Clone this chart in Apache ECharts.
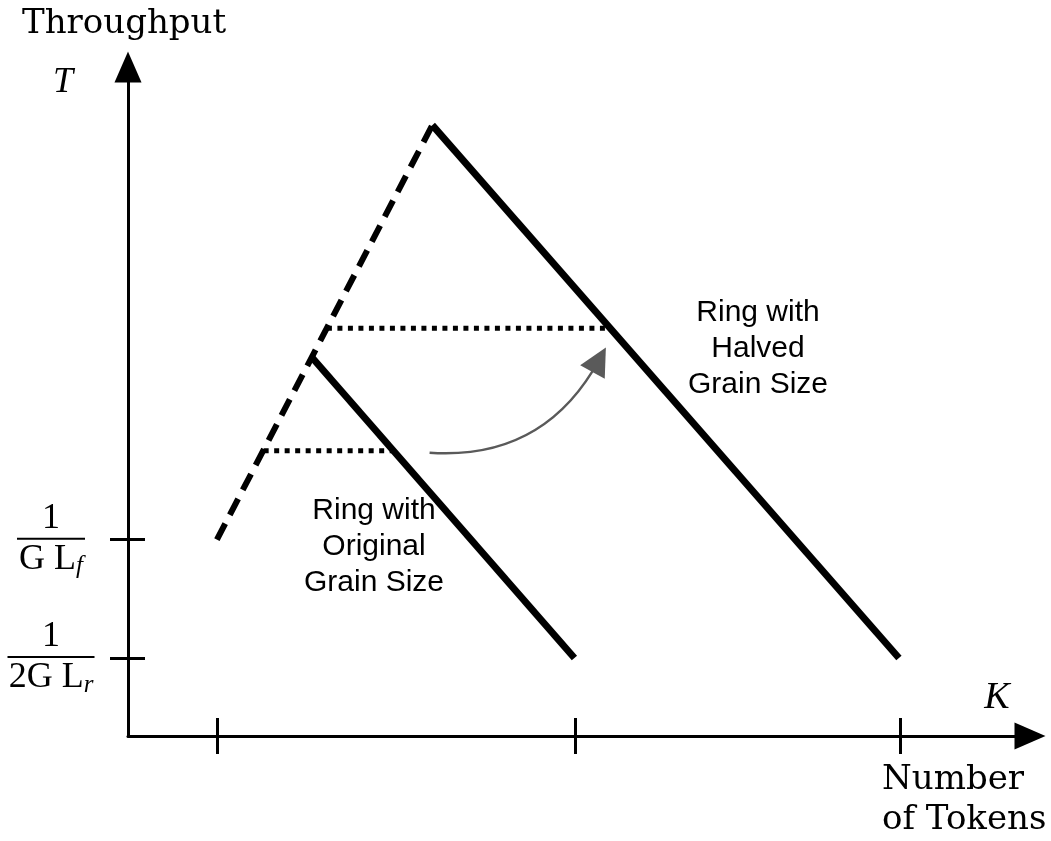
<!DOCTYPE html>
<html>
<head>
<meta charset="utf-8">
<script src="https://cdn.jsdelivr.net/npm/echarts@6/dist/echarts.min.js"></script>
<style>
  html, body { margin: 0; padding: 0; background: #fff; }
  #chart { width: 1051px; height: 841px; }
</style>
</head>
<body>
<div id="chart"></div>
<script>
// throughput vs number of tokens, schematic (arbitrary units)
var kTicks = [9.7, 48.8, 84.3];
var tTicks = [28.7, 11.4];
var tLabels = ['{n|1}\n{bar|}\n{d|G L}{sub|f}', '{n|1}\n{bar2|}\n{d|2G L}{sub|r}'];

var dashedRise = [[9.7, 28.7], [33.2, 89.3]];
var halvedRing = [[33.2, 89.3], [84.1, 11.4]];
var originalRing = [[20.1, 55.3], [48.7, 11.4]];
var halvedLevel = [[21.7, 59.6], [52.5, 59.6]];
var originalLevel = [[14.8, 41.7], [29.4, 41.7]];
var shiftArrow = [[32.9, 41.4], [51.4, 55.0]];

var xMax = 98.4, yMax = 97.8;
var serif = '"DejaVu Serif", serif';
var times = '"Liberation Serif", serif';
var sans = '"Liberation Sans", Arial, sans-serif';

function lineSeries(data, type, width) {
    return {
        type: 'line',
        data: data,
        showSymbol: false,
        silent: true,
        animation: false,
        lineStyle: { color: '#000', width: width, type: type, cap: 'butt' }
    };
}

var series = [
    lineSeries(dashedRise, [18, 10], 6),
    lineSeries(halvedRing, 'solid', 7),
    lineSeries(originalRing, 'solid', 7),
    lineSeries(halvedLevel, [5, 5.5], 5),
    lineSeries(originalLevel, [5, 5.5], 5),
    {
        // curved arrow between the two levels
        type: 'lines',
        coordinateSystem: 'cartesian2d',
        silent: true,
        animation: false,
        symbol: ['none', 'triangle'],
        symbolSize: [22, 28],
        lineStyle: { color: '#5a5a5a', width: 2.5, opacity: 1, curveness: -0.32 },
        data: [{ coords: shiftArrow }]
    }
];

function axisBase(min, max) {
    return { type: 'value', min: min, max: max, splitLine: { show: false } };
}

var option = {
    backgroundColor: '#fff',
    animation: false,
    grid: { left: 128, right: 21, top: 67, bottom: 105, outerBoundsMode: 'none' },
    xAxis: [
        Object.assign(axisBase(0, xMax), {
            position: 'bottom',
            axisLine: { show: true, onZero: false, symbol: ['none', 'triangle'], symbolSize: [27, 31],
                lineStyle: { color: '#000', width: 3 } },
            axisTick: { show: true, customValues: kTicks, length: 18, lineStyle: { color: '#000', width: 3 } },
            axisLabel: { show: false }
        }),
        Object.assign(axisBase(0, xMax), {
            position: 'bottom',
            axisLine: { show: false, onZero: false },
            axisTick: { show: true, inside: true, customValues: kTicks, length: 18, lineStyle: { color: '#000', width: 3 } },
            axisLabel: { show: false }
        })
    ],
    yAxis: [
        Object.assign(axisBase(0, yMax), {
            position: 'left',
            axisLine: { show: true, onZero: false, symbol: ['none', 'triangle'], symbolSize: [27, 31],
                lineStyle: { color: '#000', width: 3 } },
            axisTick: { show: true, customValues: tTicks, length: 18, lineStyle: { color: '#000', width: 3 } },
            axisLabel: {
                show: true, customValues: tTicks, margin: 77, align: 'center', color: '#000',
                formatter: function (v) { return tLabels[tTicks.indexOf(v)]; },
                rich: {
                    n: { fontFamily: times, fontSize: 36, lineHeight: 34, color: '#000' },
                    bar: { width: 68, height: 2, lineHeight: 6, backgroundColor: '#000' },
                    bar2: { width: 87, height: 2, lineHeight: 6, backgroundColor: '#000' },
                    d: { fontFamily: times, fontSize: 36, lineHeight: 36, color: '#000' },
                    sub: { fontFamily: times, fontStyle: 'italic', fontSize: 25, lineHeight: 36,
                        padding: [14, 0, 0, 0], color: '#000' }
                }
            }
        }),
        Object.assign(axisBase(0, yMax), {
            position: 'left',
            axisLine: { show: false, onZero: false },
            axisTick: { show: true, inside: true, customValues: tTicks, length: 17, lineStyle: { color: '#000', width: 3 } },
            axisLabel: { show: false }
        })
    ],
    graphic: [
        { type: 'text', x: 22, y: 24, silent: true,
          style: { text: 'Throughput', font: '34px ' + serif, fill: '#000', align: 'left', verticalAlign: 'middle' } },
        { type: 'text', x: 63, y: 83, silent: true,
          style: { text: 'T', font: 'italic 36px ' + times, fill: '#000', align: 'center', verticalAlign: 'middle' } },
        { type: 'text', x: 997, y: 698, silent: true,
          style: { text: 'K', font: 'italic 38px ' + times, fill: '#000', align: 'center', verticalAlign: 'middle' } },
        { type: 'text', x: 882, y: 800, silent: true,
          style: { text: 'Number\nof Tokens', font: '34px ' + serif, lineHeight: 40, fill: '#000', align: 'left', verticalAlign: 'middle' } },
        { type: 'text', x: 758, y: 349, silent: true,
          style: { text: 'Ring with\nHalved\nGrain Size', font: '30px ' + sans, lineHeight: 36, fill: '#000', align: 'center', verticalAlign: 'middle' } },
        { type: 'text', x: 374, y: 547, silent: true,
          style: { text: 'Ring with\nOriginal\nGrain Size', font: '30px ' + sans, lineHeight: 36, fill: '#000', align: 'center', verticalAlign: 'middle' } }
    ],
    series: series
};

var chart = echarts.init(document.getElementById('chart'));
chart.setOption(option);
window.onresize = function () { chart.resize(); };
</script>
</body>
</html>
